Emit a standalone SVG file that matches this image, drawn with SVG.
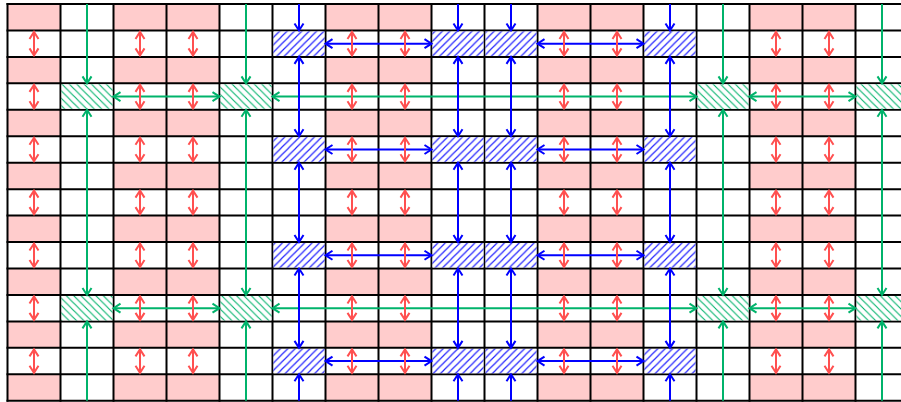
<svg xmlns="http://www.w3.org/2000/svg" xmlns:xlink="http://www.w3.org/1999/xlink" width="901" height="402" viewBox="0 0 901 402">
<style>
.pink{fill:#ffcccc}
.wrow{fill:#ffffff}
.grid line{stroke:#000;stroke-width:2}
.hb{fill:url(#hatchB)}
.hg{fill:url(#hatchG)}
.cb{stroke:#0000ff;stroke-width:2;fill:none}
.cg{stroke:#00b36b;stroke-width:2;fill:none}
.cr{stroke:#ff5050;stroke-width:2;fill:none}
.db-b{marker-start:url(#mB);marker-end:url(#mB)}
.e-b{marker-end:url(#mB)}
.db-g{marker-start:url(#mG);marker-end:url(#mG)}
.e-g{marker-end:url(#mG)}
.db-r{marker-start:url(#mR);marker-end:url(#mR)}
</style>
<defs>
<pattern id="hatchB" patternUnits="userSpaceOnUse" width="7.4" height="7.4">
<rect width="7.4" height="7.4" fill="#fff"/>
<path d="M-1,1 L1,-1 M0,7.4 L7.4,0 M6.4,8.4 L8.4,6.4" fill="none" stroke="#1f1fff" stroke-width="1.15"/>
</pattern>
<pattern id="hatchG" patternUnits="userSpaceOnUse" width="7.4" height="7.4">
<rect width="7.4" height="7.4" fill="#fff"/>
<path d="M-1,6.4 L1,8.4 M0,0 L7.4,7.4 M6.4,-1 L8.4,1" fill="none" stroke="#00b36b" stroke-width="1.1"/>
</pattern>
<marker id="mB" markerUnits="userSpaceOnUse" markerWidth="12" markerHeight="12" refX="10" refY="6" orient="auto-start-reverse" overflow="visible"><path d="M3,1.5 L10,6 L3,10.5" fill="none" stroke="#0000ff" stroke-width="2"/></marker>
<marker id="mG" markerUnits="userSpaceOnUse" markerWidth="12" markerHeight="12" refX="10" refY="6" orient="auto-start-reverse" overflow="visible"><path d="M3,1.5 L10,6 L3,10.5" fill="none" stroke="#00b36b" stroke-width="2"/></marker>
<marker id="mR" markerUnits="userSpaceOnUse" markerWidth="12" markerHeight="12" refX="10" refY="6" orient="auto-start-reverse" overflow="visible"><path d="M3,1.5 L10,6 L3,10.5" fill="none" stroke="#ff5050" stroke-width="2"/></marker>
<line id="ra" class="cr db-r" x1="0" y1="0" x2="0" y2="23.45"/>
</defs>
<rect width="901" height="402" fill="#fff"/>
<g id="background">
<rect class="pink" x="7.5" y="4" width="53" height="396.75"/>
<rect class="pink" x="113.5" y="4" width="106" height="396.75"/>
<rect class="pink" x="325.5" y="4" width="106" height="396.75"/>
<rect class="pink" x="537.5" y="4" width="106" height="396.75"/>
<rect class="pink" x="749.5" y="4" width="106" height="396.75"/>
<rect class="wrow" x="7.5" y="30.45" width="894" height="26.45"/>
<rect class="wrow" x="7.5" y="83.35" width="894" height="26.45"/>
<rect class="wrow" x="7.5" y="136.25" width="894" height="26.45"/>
<rect class="wrow" x="7.5" y="189.15" width="894" height="26.45"/>
<rect class="wrow" x="7.5" y="242.05" width="894" height="26.45"/>
<rect class="wrow" x="7.5" y="294.95" width="894" height="26.45"/>
<rect class="wrow" x="7.5" y="347.85" width="894" height="26.45"/>
</g>
<g id="grid" class="grid">
<line x1="7.5" y1="3" x2="7.5" y2="401.75"/>
<line x1="60.5" y1="3" x2="60.5" y2="401.75"/>
<line x1="113.5" y1="3" x2="113.5" y2="401.75"/>
<line x1="166.5" y1="3" x2="166.5" y2="401.75"/>
<line x1="219.5" y1="3" x2="219.5" y2="401.75"/>
<line x1="272.5" y1="3" x2="272.5" y2="401.75"/>
<line x1="325.5" y1="3" x2="325.5" y2="401.75"/>
<line x1="378.5" y1="3" x2="378.5" y2="401.75"/>
<line x1="431.5" y1="3" x2="431.5" y2="401.75"/>
<line x1="484.5" y1="3" x2="484.5" y2="401.75"/>
<line x1="537.5" y1="3" x2="537.5" y2="401.75"/>
<line x1="590.5" y1="3" x2="590.5" y2="401.75"/>
<line x1="643.5" y1="3" x2="643.5" y2="401.75"/>
<line x1="696.5" y1="3" x2="696.5" y2="401.75"/>
<line x1="749.5" y1="3" x2="749.5" y2="401.75"/>
<line x1="802.5" y1="3" x2="802.5" y2="401.75"/>
<line x1="855.5" y1="3" x2="855.5" y2="401.75"/>
<line x1="6.5" y1="4" x2="901" y2="4"/>
<line x1="6.5" y1="30.45" x2="901" y2="30.45"/>
<line x1="6.5" y1="56.9" x2="901" y2="56.9"/>
<line x1="6.5" y1="83.35" x2="901" y2="83.35"/>
<line x1="6.5" y1="109.8" x2="901" y2="109.8"/>
<line x1="6.5" y1="136.25" x2="901" y2="136.25"/>
<line x1="6.5" y1="162.7" x2="901" y2="162.7"/>
<line x1="6.5" y1="189.15" x2="901" y2="189.15"/>
<line x1="6.5" y1="215.6" x2="901" y2="215.6"/>
<line x1="6.5" y1="242.05" x2="901" y2="242.05"/>
<line x1="6.5" y1="268.5" x2="901" y2="268.5"/>
<line x1="6.5" y1="294.95" x2="901" y2="294.95"/>
<line x1="6.5" y1="321.4" x2="901" y2="321.4"/>
<line x1="6.5" y1="347.85" x2="901" y2="347.85"/>
<line x1="6.5" y1="374.3" x2="901" y2="374.3"/>
<line x1="6.5" y1="400.75" x2="901" y2="400.75"/>
</g>
<g id="blue-nodes">
<g id="b-r1-c5"><rect class="hb" x="273.5" y="31.45" width="51" height="24.45"/></g>
<g id="b-r1-c8"><rect class="hb" x="432.5" y="31.45" width="51" height="24.45"/></g>
<g id="b-r1-c9"><rect class="hb" x="485.5" y="31.45" width="51" height="24.45"/></g>
<g id="b-r1-c12"><rect class="hb" x="644.5" y="31.45" width="51" height="24.45"/></g>
<g id="b-r5-c5"><rect class="hb" x="273.5" y="137.25" width="51" height="24.45"/></g>
<g id="b-r5-c8"><rect class="hb" x="432.5" y="137.25" width="51" height="24.45"/></g>
<g id="b-r5-c9"><rect class="hb" x="485.5" y="137.25" width="51" height="24.45"/></g>
<g id="b-r5-c12"><rect class="hb" x="644.5" y="137.25" width="51" height="24.45"/></g>
<g id="b-r9-c5"><rect class="hb" x="273.5" y="243.05" width="51" height="24.45"/></g>
<g id="b-r9-c8"><rect class="hb" x="432.5" y="243.05" width="51" height="24.45"/></g>
<g id="b-r9-c9"><rect class="hb" x="485.5" y="243.05" width="51" height="24.45"/></g>
<g id="b-r9-c12"><rect class="hb" x="644.5" y="243.05" width="51" height="24.45"/></g>
<g id="b-r13-c5"><rect class="hb" x="273.5" y="348.85" width="51" height="24.45"/></g>
<g id="b-r13-c8"><rect class="hb" x="432.5" y="348.85" width="51" height="24.45"/></g>
<g id="b-r13-c9"><rect class="hb" x="485.5" y="348.85" width="51" height="24.45"/></g>
<g id="b-r13-c12"><rect class="hb" x="644.5" y="348.85" width="51" height="24.45"/></g>
</g>
<g id="green-nodes">
<g id="g-r3-c1"><rect class="hg" x="61.5" y="84.35" width="51" height="24.45"/></g>
<g id="g-r3-c4"><rect class="hg" x="220.5" y="84.35" width="51" height="24.45"/></g>
<g id="g-r3-c13"><rect class="hg" x="697.5" y="84.35" width="51" height="24.45"/></g>
<g id="g-r3-c16"><rect class="hg" x="856.5" y="84.35" width="51" height="24.45"/></g>
<g id="g-r11-c1"><rect class="hg" x="61.5" y="295.95" width="51" height="24.45"/></g>
<g id="g-r11-c4"><rect class="hg" x="220.5" y="295.95" width="51" height="24.45"/></g>
<g id="g-r11-c13"><rect class="hg" x="697.5" y="295.95" width="51" height="24.45"/></g>
<g id="g-r11-c16"><rect class="hg" x="856.5" y="295.95" width="51" height="24.45"/></g>
</g>
<g id="connectors">
<g id="green-connectors" class="cg">
<line class="db-g" x1="113.5" y1="96.575" x2="219.5" y2="96.575"/>
<line class="db-g" x1="272.5" y1="96.575" x2="696.5" y2="96.575"/>
<line class="db-g" x1="749.5" y1="96.575" x2="855.5" y2="96.575"/>
<line class="db-g" x1="113.5" y1="308.175" x2="219.5" y2="308.175"/>
<line class="db-g" x1="272.5" y1="308.175" x2="696.5" y2="308.175"/>
<line class="db-g" x1="749.5" y1="308.175" x2="855.5" y2="308.175"/>
<line class="e-g" x1="87" y1="4" x2="87" y2="83.35"/>
<line class="db-g" x1="87" y1="109.8" x2="87" y2="294.95"/>
<line class="e-g" x1="87" y1="400.75" x2="87" y2="321.4"/>
<line class="e-g" x1="246" y1="4" x2="246" y2="83.35"/>
<line class="db-g" x1="246" y1="109.8" x2="246" y2="294.95"/>
<line class="e-g" x1="246" y1="400.75" x2="246" y2="321.4"/>
<line class="e-g" x1="723" y1="4" x2="723" y2="83.35"/>
<line class="db-g" x1="723" y1="109.8" x2="723" y2="294.95"/>
<line class="e-g" x1="723" y1="400.75" x2="723" y2="321.4"/>
<line class="e-g" x1="882" y1="4" x2="882" y2="83.35"/>
<line class="db-g" x1="882" y1="109.8" x2="882" y2="294.95"/>
<line class="e-g" x1="882" y1="400.75" x2="882" y2="321.4"/>
</g>
<g id="blue-connectors" class="cb">
<line class="db-b" x1="325.5" y1="43.675" x2="431.5" y2="43.675"/>
<line class="db-b" x1="537.5" y1="43.675" x2="643.5" y2="43.675"/>
<line class="db-b" x1="325.5" y1="149.475" x2="431.5" y2="149.475"/>
<line class="db-b" x1="537.5" y1="149.475" x2="643.5" y2="149.475"/>
<line class="db-b" x1="325.5" y1="255.275" x2="431.5" y2="255.275"/>
<line class="db-b" x1="537.5" y1="255.275" x2="643.5" y2="255.275"/>
<line class="db-b" x1="325.5" y1="361.075" x2="431.5" y2="361.075"/>
<line class="db-b" x1="537.5" y1="361.075" x2="643.5" y2="361.075"/>
<line class="e-b" x1="299" y1="4" x2="299" y2="30.45"/>
<line class="db-b" x1="299" y1="56.9" x2="299" y2="136.25"/>
<line class="db-b" x1="299" y1="162.7" x2="299" y2="242.05"/>
<line class="db-b" x1="299" y1="268.5" x2="299" y2="347.85"/>
<line class="e-b" x1="299" y1="400.75" x2="299" y2="374.3"/>
<line class="e-b" x1="458" y1="4" x2="458" y2="30.45"/>
<line class="db-b" x1="458" y1="56.9" x2="458" y2="136.25"/>
<line class="db-b" x1="458" y1="162.7" x2="458" y2="242.05"/>
<line class="db-b" x1="458" y1="268.5" x2="458" y2="347.85"/>
<line class="e-b" x1="458" y1="400.75" x2="458" y2="374.3"/>
<line class="e-b" x1="511" y1="4" x2="511" y2="30.45"/>
<line class="db-b" x1="511" y1="56.9" x2="511" y2="136.25"/>
<line class="db-b" x1="511" y1="162.7" x2="511" y2="242.05"/>
<line class="db-b" x1="511" y1="268.5" x2="511" y2="347.85"/>
<line class="e-b" x1="511" y1="400.75" x2="511" y2="374.3"/>
<line class="e-b" x1="670" y1="4" x2="670" y2="30.45"/>
<line class="db-b" x1="670" y1="56.9" x2="670" y2="136.25"/>
<line class="db-b" x1="670" y1="162.7" x2="670" y2="242.05"/>
<line class="db-b" x1="670" y1="268.5" x2="670" y2="347.85"/>
<line class="e-b" x1="670" y1="400.75" x2="670" y2="374.3"/>
</g>
<g id="red-connectors">
<g id="red-r1">
<use xlink:href="#ra" x="34" y="31.95"/><use xlink:href="#ra" x="140" y="31.95"/><use xlink:href="#ra" x="193" y="31.95"/>
<use xlink:href="#ra" x="352" y="31.95"/><use xlink:href="#ra" x="405" y="31.95"/><use xlink:href="#ra" x="564" y="31.95"/>
<use xlink:href="#ra" x="617" y="31.95"/><use xlink:href="#ra" x="776" y="31.95"/><use xlink:href="#ra" x="829" y="31.95"/>
</g>
<g id="red-r3">
<use xlink:href="#ra" x="34" y="84.85"/><use xlink:href="#ra" x="140" y="84.85"/><use xlink:href="#ra" x="193" y="84.85"/>
<use xlink:href="#ra" x="352" y="84.85"/><use xlink:href="#ra" x="405" y="84.85"/><use xlink:href="#ra" x="564" y="84.85"/>
<use xlink:href="#ra" x="617" y="84.85"/><use xlink:href="#ra" x="776" y="84.85"/><use xlink:href="#ra" x="829" y="84.85"/>
</g>
<g id="red-r5">
<use xlink:href="#ra" x="34" y="137.75"/><use xlink:href="#ra" x="140" y="137.75"/><use xlink:href="#ra" x="193" y="137.75"/>
<use xlink:href="#ra" x="352" y="137.75"/><use xlink:href="#ra" x="405" y="137.75"/><use xlink:href="#ra" x="564" y="137.75"/>
<use xlink:href="#ra" x="617" y="137.75"/><use xlink:href="#ra" x="776" y="137.75"/><use xlink:href="#ra" x="829" y="137.75"/>
</g>
<g id="red-r7">
<use xlink:href="#ra" x="34" y="190.65"/><use xlink:href="#ra" x="140" y="190.65"/><use xlink:href="#ra" x="193" y="190.65"/>
<use xlink:href="#ra" x="352" y="190.65"/><use xlink:href="#ra" x="405" y="190.65"/><use xlink:href="#ra" x="564" y="190.65"/>
<use xlink:href="#ra" x="617" y="190.65"/><use xlink:href="#ra" x="776" y="190.65"/><use xlink:href="#ra" x="829" y="190.65"/>
</g>
<g id="red-r9">
<use xlink:href="#ra" x="34" y="243.55"/><use xlink:href="#ra" x="140" y="243.55"/><use xlink:href="#ra" x="193" y="243.55"/>
<use xlink:href="#ra" x="352" y="243.55"/><use xlink:href="#ra" x="405" y="243.55"/><use xlink:href="#ra" x="564" y="243.55"/>
<use xlink:href="#ra" x="617" y="243.55"/><use xlink:href="#ra" x="776" y="243.55"/><use xlink:href="#ra" x="829" y="243.55"/>
</g>
<g id="red-r11">
<use xlink:href="#ra" x="34" y="296.45"/><use xlink:href="#ra" x="140" y="296.45"/><use xlink:href="#ra" x="193" y="296.45"/>
<use xlink:href="#ra" x="352" y="296.45"/><use xlink:href="#ra" x="405" y="296.45"/><use xlink:href="#ra" x="564" y="296.45"/>
<use xlink:href="#ra" x="617" y="296.45"/><use xlink:href="#ra" x="776" y="296.45"/><use xlink:href="#ra" x="829" y="296.45"/>
</g>
<g id="red-r13">
<use xlink:href="#ra" x="34" y="349.35"/><use xlink:href="#ra" x="140" y="349.35"/><use xlink:href="#ra" x="193" y="349.35"/>
<use xlink:href="#ra" x="352" y="349.35"/><use xlink:href="#ra" x="405" y="349.35"/><use xlink:href="#ra" x="564" y="349.35"/>
<use xlink:href="#ra" x="617" y="349.35"/><use xlink:href="#ra" x="776" y="349.35"/><use xlink:href="#ra" x="829" y="349.35"/>
</g>
</g>
</g>
</svg>
